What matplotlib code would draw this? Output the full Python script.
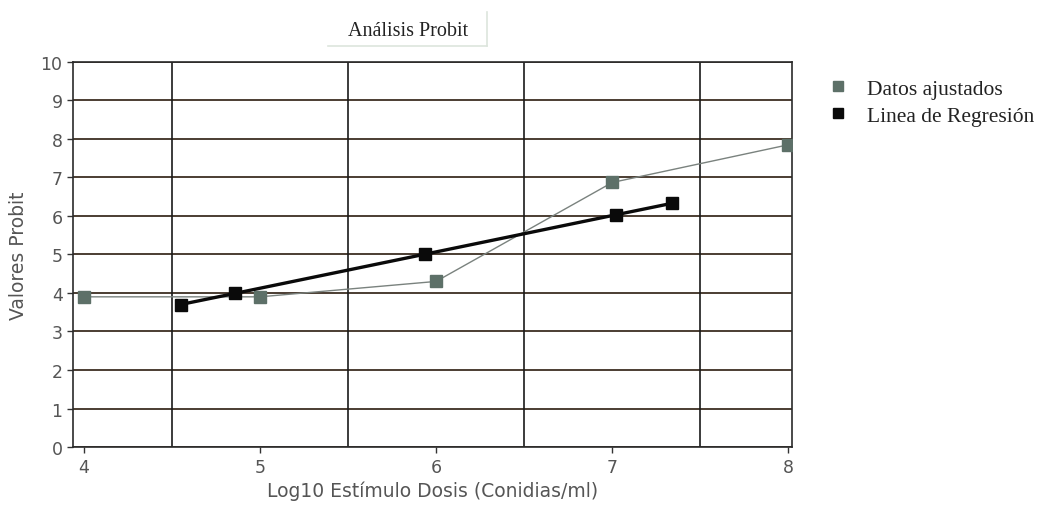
import matplotlib
matplotlib.use("Agg")
import matplotlib.pyplot as plt
from matplotlib.lines import Line2D

# Probit analysis data
dose_fit = [4, 5, 6, 7, 8]
probit_fit = [3.9, 3.9, 4.3, 6.87, 7.85]

dose_reg = [4.55, 4.86, 5.94, 7.02, 7.34]
probit_reg = [3.70, 3.99, 5.01, 6.03, 6.33]

x_ticks = [4, 5, 6, 7, 8]
y_ticks = list(range(0, 11))
x_grid = [4.5, 5.5, 6.5, 7.5]

title = "Análisis Probit"
x_label = "Log10 Estímulo Dosis (Conidias/ml)"
y_label = "Valores Probit"
legend_labels = ["Datos ajustados", "Linea de Regresión"]

fig = plt.figure(figsize=(10.58, 5.06), dpi=100)
ax = fig.add_axes([0.069, 0.1146, 0.6796, 0.761])

ax.set_xlim(3.94, 8.02)
ax.set_ylim(0, 10)

# grid
for yv in y_ticks:
    ax.axhline(yv, color="#3d2e22", lw=1.3, zorder=1)
for xv in x_grid:
    ax.axvline(xv, color="#1a1a1a", lw=1.2, zorder=1)

fit_color = "#5d7068"
l1, = ax.plot(dose_fit, probit_fit, color="#7a827e", lw=1.0, zorder=3,
              marker="s", markersize=9, markerfacecolor=fit_color,
              markeredgecolor=fit_color)
l2, = ax.plot(dose_reg, probit_reg, color="#0a0a0a", lw=2.4, zorder=4,
              marker="s", markersize=9, markerfacecolor="#0a0a0a",
              markeredgecolor="#0a0a0a")

for s in ax.spines.values():
    s.set_color("#2a2a2a")
    s.set_linewidth(1.2)

ax.set_xticks(x_ticks)
ax.set_yticks(y_ticks)
ax.tick_params(axis="both", colors="#333333", labelcolor="#555555",
               labelsize=12.5, length=4, width=1)
ax.tick_params(axis="x", pad=4)

ax.set_xlabel(x_label, fontsize=13.5, color="#555555", labelpad=3)
ax.set_ylabel(y_label, fontsize=13.5, color="#555555")
ax.yaxis.set_label_coords(-0.062, 0.50)

fig.text(0.386, 0.937, title, ha="center", va="center",
         family="Liberation Serif", fontsize=14.5, color="#222222")
# faint frame edges around the title
fig.add_artist(Line2D([0.31, 0.46], [0.907, 0.907], color="#dde5dd", lw=1.2))
fig.add_artist(Line2D([0.46, 0.46], [0.907, 0.975], color="#dde5dd", lw=1.2))

leg = fig.legend([l1, l2], legend_labels, loc="upper left",
                 bbox_to_anchor=(0.785, 0.842), frameon=False,
                 prop={"family": "Liberation Serif", "size": 15.5},
                 handlelength=0.7, handletextpad=1.0, labelspacing=0.3,
                 borderaxespad=0, borderpad=0)
# legend handles as plain squares
for h, c in zip(leg.legend_handles, [fit_color, "#0a0a0a"]):
    h.set_linestyle("none")
    h.set_marker("s")
    h.set_markersize(7)
    h.set_markerfacecolor(c)
    h.set_markeredgecolor(c)
for t in leg.get_texts():
    t.set_color("#222222")

fig.savefig("out.png", dpi=100)
